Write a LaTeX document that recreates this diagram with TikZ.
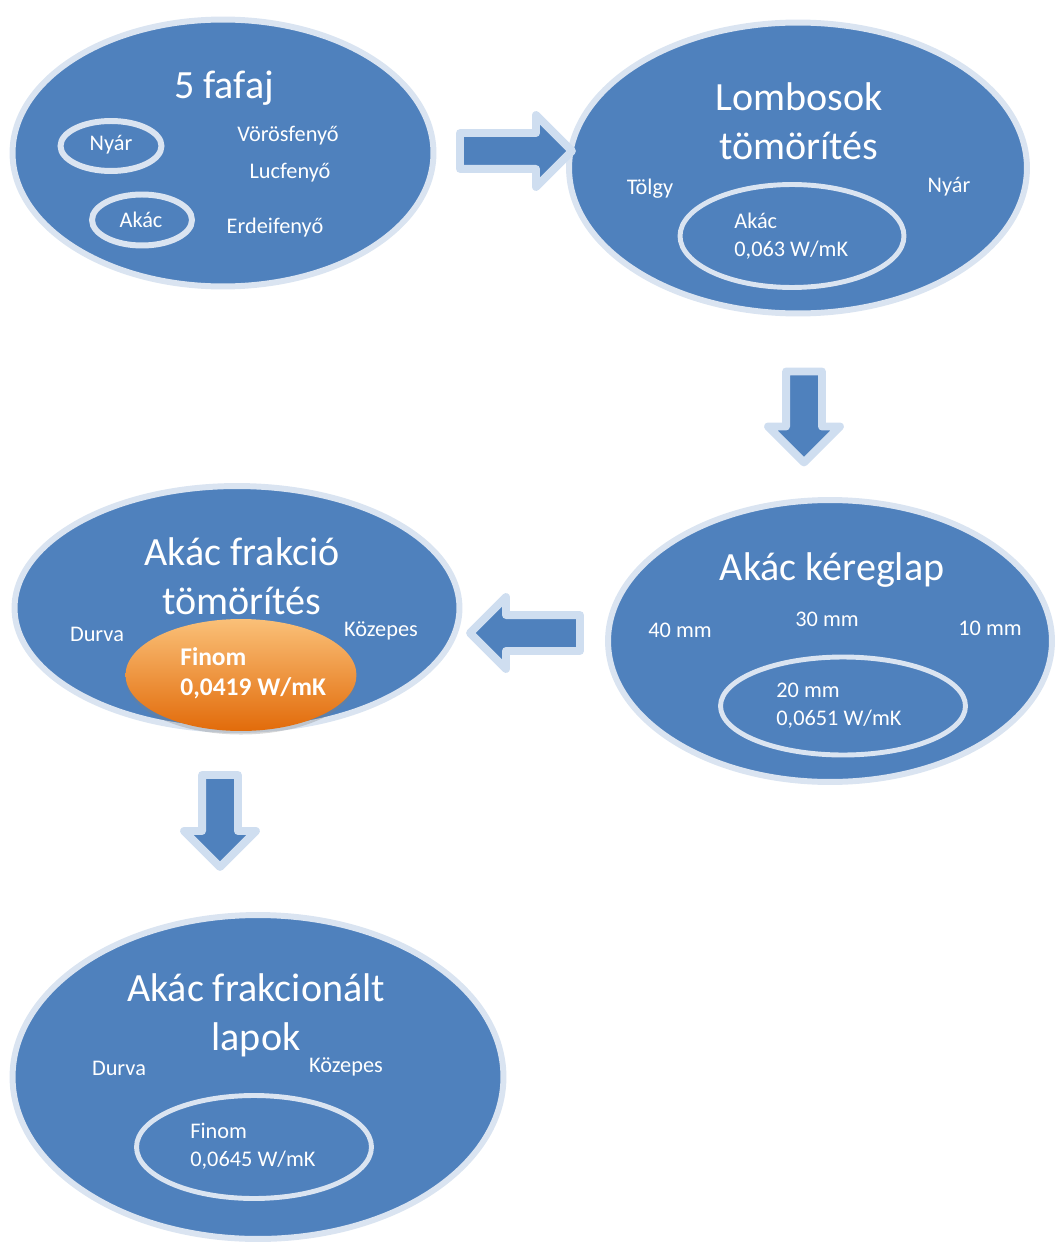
\documentclass[tikz,border=0pt]{standalone}
\usepackage{fontspec}
\setmainfont{Carlito}
\usepackage{tikz}
\usetikzlibrary{positioning,shapes.geometric,shapes.arrows,shadows}
\definecolor{ovblue}{RGB}{79,129,189}
\definecolor{ovrim}{RGB}{218,228,241}
\definecolor{arrowrim}{RGB}{207,222,240}
\definecolor{finomtop}{RGB}{250,192,120}
\definecolor{finommid}{RGB}{247,150,70}
\definecolor{finombot}{RGB}{226,107,10}

\begin{document}
\begin{tikzpicture}[x=0.02cm, y=-0.02cm,
    every node/.style={text=white, font=\fontsize{12.7}{16}\selectfont},
    bigoval/.style={ellipse, draw=ovrim, line width=3.4pt, fill=ovblue, inner sep=0pt},
    ringoval/.style={ellipse, draw=ovrim, line width=2.8pt, inner sep=0pt},
    titletext/.style={font=\fontsize{22.8}{27.9}\selectfont, align=center},
    valuetext/.style={align=left, anchor=west, inner sep=0pt},
    blockarrow/.style={single arrow, draw=arrowrim, line width=4.5pt, line join=round, fill=ovblue,
        inner xsep=0pt, inner ysep=0.28cm, single arrow head extend=0.36cm}]
        \useasboundingbox (0,0) rectangle (1056,1243);
        % 5 fafaj
        \node[bigoval, minimum width=8.42cm, minimum height=5.34cm] (fafaj) at (223,153) {};
        \node[titletext] (fafajtitle) at (224,88) {5 fafaj};
        \node[ringoval, line width=3.4pt, minimum width=2.02cm, minimum height=1.0cm] (nyarring) at (111,146) {};
        \node[ringoval, line width=3.4pt, minimum width=2.0cm, minimum height=1.02cm] (akacring) at (142,220) {};
        \node (nyar) at (111,145) {Nyár};
        \node (akac) at (141,220) {Akác};
        \node (voros) at (288,136) {Vörösfenyő};
        \node (luc) at (290,173) {Lucfenyő};
        \node (erdei) at (275,228) {Erdeifenyő};
        % Lombosok tömörítés
        \node[bigoval, minimum width=9.16cm, minimum height=5.82cm] (lombos) at (798,168) {};
        \node[titletext] (lombostitle) at (799,121) {Lombosok\\tömörítés};
        \node (tolgy) at (650,189) {Tölgy};
        \node (lombosnyar) at (949,187) {Nyár};
        \node[ringoval, minimum width=4.48cm, minimum height=2.06cm] (lombosring) at (792,236) {};
        \node[valuetext] (lombosvalue) at (734,236) {Akác\\0,063 W/mK};
        % Akác kéreglap
        \node[bigoval, minimum width=8.88cm, minimum height=5.64cm] (kereglap) at (830,641) {};
        \node[titletext] (kereglaptitle) at (832,570) {Akác kéreglap};
        \node (negyven) at (680,630) {40 mm};
        \node (harminc) at (827,619) {30 mm};
        \node (tiz) at (990,628) {10 mm};
        \node[ringoval, minimum width=4.9cm, minimum height=1.96cm] (kereglapring) at (843,706) {};
        \node[valuetext] (kereglapvalue) at (776,706) {20 mm\\0,0651 W/mK};
        % Akác frakció tömörítés
        \node[bigoval, minimum width=8.9cm, minimum height=4.88cm] (frakcio) at (237,608) {};
        \node[titletext] (frakciotitle) at (242,576) {Akác frakció\\tömörítés};
        \node (frakciodurva) at (97,634) {Durva};
        \node (frakciokozepes) at (381,631) {Közepes};
        \node[ellipse, inner sep=0pt, minimum width=4.62cm, minimum height=2.24cm,
            top color=finomtop, middle color=finommid, bottom color=finombot,
            drop shadow={opacity=0.3, shadow xshift=0pt, shadow yshift=-2pt}] (finom) at (241,675) {};
        \node[valuetext, font=\bfseries\fontsize{14.5}{17}\selectfont] (finomvalue) at (180,673) {Finom\\0,0419 W/mK};
        % Akác frakcionált lapok
        \node[bigoval, minimum width=9.82cm, minimum height=6.48cm] (lapok) at (258,1077) {};
        \node[titletext] (lapoktitle) at (256,1015) {Akác frakcionált\\lapok};
        \node (lapokdurva) at (119,1068) {Durva};
        \node (lapokkozepes) at (346,1067) {Közepes};
        \node[ringoval, minimum width=4.7cm, minimum height=2.06cm] (lapokring) at (254,1147) {};
        \node[valuetext] (lapokvalue) at (190,1146) {Finom\\0,0645 W/mK};
        % nyilak
        \node[blockarrow, minimum height=2.24cm] (arrowone) at (507,151) {};
        \node[blockarrow, minimum height=1.82cm, rotate=-90] (arrowtwo) at (804,408) {};
        \node[blockarrow, minimum height=2.2cm, rotate=180] (arrowthree) at (534,633) {};
        \node[blockarrow, minimum height=1.84cm, rotate=-90] (arrowfour) at (220,812) {};
    \end{tikzpicture}
\end{document}
